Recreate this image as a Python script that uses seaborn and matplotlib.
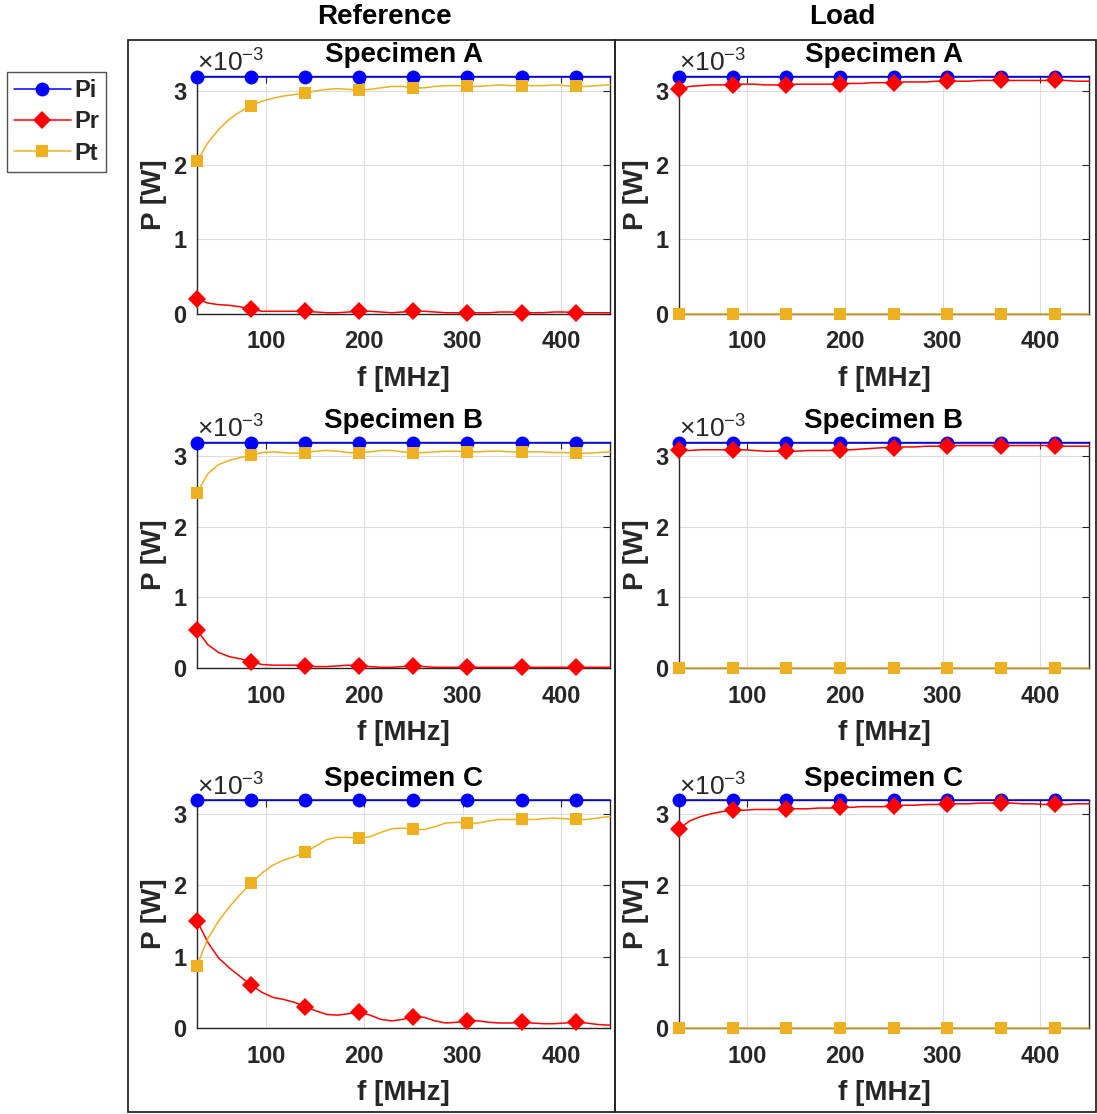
import matplotlib
matplotlib.use("Agg")
import matplotlib.pyplot as plt
from matplotlib.patches import Rectangle
import numpy as np
import seaborn as sns

# %% data (power in mW, frequency in MHz)

FREQ = [30, 41, 52, 63, 74, 85, 96, 107, 118, 129,
        140, 151, 162, 173, 184, 195, 206, 217, 228, 239,
        250, 261, 272, 283, 294, 305, 316, 327, 338, 349,
        360, 371, 382, 393, 404, 415, 426, 437, 448, 450]

# flat series only need the marker frequencies + end point
FREQ_FLAT = [30, 85, 140, 195, 250, 305, 360, 415, 450]
PI_FLAT = [3.19, 3.19, 3.19, 3.19, 3.19, 3.19, 3.19, 3.19, 3.19]
PT_LOAD = [0.0, 0.0, 0.0, 0.0, 0.0, 0.0, 0.0, 0.0, 0.0]

PT_REF_A = [2.05, 2.30, 2.48, 2.62, 2.72, 2.80, 2.86, 2.90, 2.93, 2.95,
            2.97, 3.00, 3.02, 3.03, 3.02, 3.01, 3.02, 3.04, 3.06, 3.06,
            3.04, 3.04, 3.06, 3.07, 3.07, 3.06, 3.06, 3.07, 3.08, 3.07,
            3.07, 3.07, 3.07, 3.08, 3.07, 3.06, 3.06, 3.07, 3.08, 3.08]
PR_REF_A = [0.20, 0.14, 0.12, 0.11, 0.09, 0.06, 0.03, 0.03, 0.03, 0.03,
            0.03, 0.02, 0.01, 0.01, 0.02, 0.03, 0.03, 0.02, 0.01, 0.02,
            0.03, 0.03, 0.02, 0.01, 0.01, 0.01, 0.01, 0.01, 0.02, 0.02,
            0.01, 0.01, 0.01, 0.02, 0.02, 0.01, 0.01, 0.01, 0.01, 0.01]

PT_REF_B = [2.48, 2.75, 2.88, 2.94, 2.98, 3.01, 3.05, 3.06, 3.05, 3.04,
            3.05, 3.07, 3.08, 3.07, 3.05, 3.05, 3.06, 3.08, 3.08, 3.06,
            3.05, 3.05, 3.06, 3.07, 3.07, 3.06, 3.06, 3.07, 3.07, 3.06,
            3.06, 3.06, 3.06, 3.05, 3.05, 3.04, 3.04, 3.05, 3.06, 3.06]
PR_REF_B = [0.54, 0.33, 0.22, 0.16, 0.13, 0.09, 0.05, 0.04, 0.04, 0.04,
            0.03, 0.02, 0.02, 0.03, 0.04, 0.03, 0.02, 0.01, 0.01, 0.02,
            0.03, 0.02, 0.01, 0.01, 0.01, 0.01, 0.01, 0.01, 0.01, 0.01,
            0.01, 0.01, 0.01, 0.01, 0.01, 0.01, 0.01, 0.01, 0.01, 0.01]

PT_REF_C = [0.87, 1.25, 1.50, 1.70, 1.87, 2.03, 2.17, 2.28, 2.35, 2.40,
            2.46, 2.55, 2.64, 2.67, 2.67, 2.66, 2.68, 2.74, 2.79, 2.80,
            2.78, 2.78, 2.82, 2.87, 2.88, 2.87, 2.87, 2.90, 2.92, 2.92,
            2.92, 2.92, 2.93, 2.94, 2.93, 2.92, 2.92, 2.94, 2.96, 2.96]
PR_REF_C = [1.50, 1.20, 0.98, 0.84, 0.72, 0.60, 0.50, 0.43, 0.40, 0.36,
            0.30, 0.24, 0.19, 0.18, 0.20, 0.22, 0.18, 0.12, 0.10, 0.12,
            0.16, 0.15, 0.10, 0.07, 0.08, 0.10, 0.10, 0.08, 0.07, 0.07,
            0.08, 0.07, 0.06, 0.06, 0.07, 0.08, 0.07, 0.05, 0.04, 0.04]

PR_LOAD_A = [3.02, 3.06, 3.07, 3.08, 3.08, 3.08, 3.09, 3.09, 3.08, 3.08,
             3.08, 3.09, 3.09, 3.09, 3.09, 3.09, 3.10, 3.10, 3.11, 3.11,
             3.11, 3.12, 3.12, 3.12, 3.13, 3.13, 3.13, 3.13, 3.14, 3.14,
             3.14, 3.14, 3.14, 3.14, 3.14, 3.14, 3.14, 3.13, 3.13, 3.13]
PR_LOAD_B = [3.08, 3.08, 3.09, 3.09, 3.09, 3.09, 3.09, 3.08, 3.07, 3.07,
             3.07, 3.07, 3.08, 3.08, 3.08, 3.09, 3.09, 3.10, 3.11, 3.12,
             3.12, 3.13, 3.13, 3.14, 3.14, 3.14, 3.15, 3.15, 3.15, 3.15,
             3.15, 3.15, 3.15, 3.15, 3.15, 3.15, 3.14, 3.14, 3.14, 3.14]
PR_LOAD_C = [2.79, 2.90, 2.96, 3.00, 3.03, 3.05, 3.05, 3.06, 3.06, 3.06,
             3.07, 3.07, 3.07, 3.08, 3.08, 3.09, 3.09, 3.10, 3.10, 3.10,
             3.11, 3.12, 3.12, 3.13, 3.13, 3.14, 3.14, 3.14, 3.15, 3.15,
             3.15, 3.15, 3.14, 3.14, 3.13, 3.13, 3.13, 3.14, 3.14, 3.14]

SPECIMENS = ["Specimen A", "Specimen B", "Specimen C"]
COLUMNS = ["Reference", "Load"]

# (row, col) -> (Pr on FREQ, Pt values, Pt on full grid?)
PANELS = {
    (0, 0): (PR_REF_A, PT_REF_A, True),
    (1, 0): (PR_REF_B, PT_REF_B, True),
    (2, 0): (PR_REF_C, PT_REF_C, True),
    (0, 1): (PR_LOAD_A, PT_LOAD, False),
    (1, 1): (PR_LOAD_B, PT_LOAD, False),
    (2, 1): (PR_LOAD_C, PT_LOAD, False),
}

C_PI = "#0000FF"
C_PR = "#FF0000"
C_PT = "#EDB120"
DARK = "#262626"

# %% style

sns.set_theme(style="white")
plt.rcParams["font.family"] = ["Liberation Sans", "DejaVu Sans"]
plt.rcParams["mathtext.fontset"] = "custom"
plt.rcParams["mathtext.rm"] = "Liberation Sans"
plt.rcParams["mathtext.it"] = "Liberation Sans:italic"
plt.rcParams["mathtext.bf"] = "Liberation Sans:bold"

W, H = 1097, 1114
fig = plt.figure(figsize=(W / 100, H / 100), dpi=100)

col_x = [(197, 610), (679, 1089)]
row_y = [(76, 313.5), (442, 668), (799.5, 1028)]

mw = 1e-3
axes = {}
for (r, c), (pr, pt, pt_full) in PANELS.items():
    x0, x1 = col_x[c]
    y0, y1 = row_y[r]
    ax = fig.add_axes([x0 / W, 1 - y1 / H, (x1 - x0) / W, (y1 - y0) / H])
    axes[(r, c)] = ax

    line_kws = dict(ax=ax, legend=False, clip_on=False, lw=1.1, zorder=4)
    sns.lineplot(x=FREQ_FLAT, y=np.array(PI_FLAT) * mw, color=C_PI, marker="o",
                 ms=10, mec=C_PI, mew=0, markevery=slice(0, 8), label="Pi", **line_kws)
    sns.lineplot(x=FREQ, y=np.array(pr) * mw, color=C_PR, marker="D",
                 ms=9, mec=C_PR, mew=0, markevery=5, label="Pr", **line_kws)
    if pt_full:
        sns.lineplot(x=FREQ, y=np.array(pt) * mw, color=C_PT, marker="s",
                     ms=8, mec=C_PT, mew=0, markevery=5, label="Pt", **line_kws)
    else:
        sns.lineplot(x=FREQ_FLAT, y=np.array(pt) * mw, color=C_PT, marker="s",
                     ms=8, mec=C_PT, mew=0, markevery=slice(0, 8), label="Pt", **line_kws)

    ax.set_xlim(30, 450)
    ax.set_ylim(0, 3.2e-3)
    ax.set_xticks([100, 200, 300, 400])
    ax.set_yticks([0, 1e-3, 2e-3, 3e-3])
    ax.ticklabel_format(axis="y", style="sci", scilimits=(-3, -3), useMathText=True)
    ax.grid(True, color="#dcdcdc", lw=0.8)
    ax.set_axisbelow(True)
    for s in ax.spines.values():
        s.set_color(DARK)
        s.set_linewidth(1.0)
    ax.tick_params(axis="both", direction="in", length=5, width=0.8, color=DARK,
                   labelcolor=DARK, labelsize=17, top=True, right=True)
    ax.tick_params(axis="x", pad=12)
    ax.tick_params(axis="y", pad=7)
    for lab in ax.get_xticklabels() + ax.get_yticklabels():
        lab.set_fontweight("bold")
    ax.yaxis.get_offset_text().set_fontsize(19)
    ax.yaxis.get_offset_text().set_color(DARK)

    ax.set_xlabel("f [MHz]", fontsize=20, fontweight="bold", color=DARK, labelpad=9)
    ax.set_ylabel("P [W]", fontsize=20, fontweight="bold", color=DARK, labelpad=4)
    ax.set_title(SPECIMENS[r], fontsize=20, fontweight="bold", color="black", pad=10)

# column headers and their frames
fig.text(384 / W, 1 - 17 / H, COLUMNS[0], ha="center", va="center",
         fontsize=20, fontweight="bold", color="black")
fig.text(842 / W, 1 - 17 / H, COLUMNS[1], ha="center", va="center",
         fontsize=20, fontweight="bold", color="black")
for bx0, bx1 in [(128, 615), (615, 1096)]:
    fig.add_artist(Rectangle((bx0 / W, 1 - 1112 / H), (bx1 - bx0) / W, (1112 - 40) / H,
                             transform=fig.transFigure, fill=False,
                             edgecolor=DARK, lw=1.3))

# shared legend
handles, labels = axes[(0, 0)].get_legend_handles_labels()
leg = fig.legend(handles, labels, loc="upper left",
                 bbox_to_anchor=(7 / W, 1 - 72 / H), borderaxespad=0,
                 frameon=True, fancybox=False, edgecolor=DARK,
                 prop={"size": 17, "weight": "bold"}, handlelength=2.4,
                 handletextpad=0.15, borderpad=0.3, labelspacing=0.35,
                 numpoints=1)
leg.get_frame().set_linewidth(1.0)

fig.savefig("out.png", dpi=100)
